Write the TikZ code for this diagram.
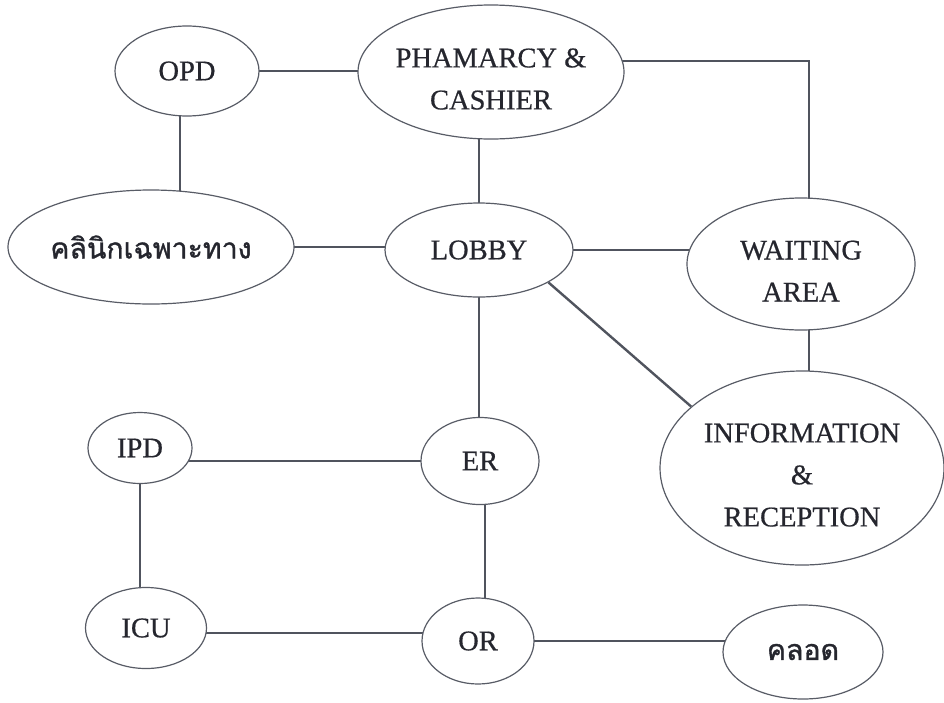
\documentclass[tikz,border=0pt]{standalone}
\usepackage{fontspec}
\setmainfont[FakeBold=0.6]{Liberation Serif}
\newfontfamily\thaifont[Script=Thai,FakeBold=1.2]{Loma}
\usetikzlibrary{shapes.geometric,backgrounds}
\definecolor{inkline}{HTML}{50545E}
\definecolor{rim}{HTML}{585C66}
\definecolor{inktext}{HTML}{25262E}
% extra room above the first line of a stacked label
\newcommand{\toproom}{\rule{0pt}{33pt}}
\begin{document}
\begin{tikzpicture}[x=1pt,y=-1pt,
  room/.style={ellipse,draw=rim,line width=1.2pt,fill=white,inner sep=-4pt,
    align=center,text=inktext,font=\fontsize{28.5}{42}\selectfont},
  link/.style={draw=inkline,line width=2.4pt}]
\useasboundingbox (0,0) rectangle (944,702);

% rooms
\node[room,minimum width=144,minimum height=90]  (opd)     at (187,71)  {OPD};
\node[room,minimum width=266,minimum height=134] (pharm)   at (491,72)  {\toproom PHAMARCY \&\\CASHIER};
\node[room,minimum width=286,minimum height=114] (clinic)  at (151,247) {\thaifont คลินิกเฉพาะทาง};
\node[room,minimum width=188,minimum height=94]  (lobby)   at (479,250) {LOBBY};
\node[room,minimum width=228,minimum height=132] (waiting) at (801,264) {\toproom WAITING\\AREA};
\node[room,minimum width=284,minimum height=194] (info)    at (802,468) {\toproom INFORMATION\\\&\\RECEPTION};
\node[room,minimum width=104,minimum height=71]  (ipd)     at (140,448) {IPD};
\node[room,minimum width=118,minimum height=87]  (er)      at (480,461) {ER};
\node[room,minimum width=121,minimum height=81]  (icu)     at (146,628) {ICU};
\node[room,minimum width=112,minimum height=86]  (orr)     at (478,641) {OR};
\node[room,minimum width=160,minimum height=94]  (labor)   at (803,652) {\thaifont คลอด};

% corridors, drawn under the rooms
\begin{scope}[on background layer]
\fill[white] (0,0) rectangle (944,702);
\coordinate (opdfoot) at ([xshift=-7pt]opd.center);
\coordinate (phtap)   at ([yshift=11pt]pharm.center);
\coordinate (waittop) at ([xshift=8pt]waiting.center);
\coordinate (erleg)   at ([xshift=5pt]er.center);
\coordinate (icuarm)  at ([yshift=-5pt]icu.center);
\draw[link] (opd.center) -- (opd.center -| pharm.center);
\draw[link] (opdfoot) -- (opdfoot |- clinic.center);
\draw[link] (lobby.center) -- (lobby.center |- pharm.center);
\draw[link] (phtap) -| (waittop);
\draw[link] (clinic.center) -- (clinic.center -| lobby.center);
\draw[link] (lobby.center) -- (lobby.center -| waiting.center);
\draw[link] (lobby.-25) -- (info.151);
\draw[link] (waittop) -- (waittop |- info.center);
\draw[link] (lobby.center) -- (lobby.center |- er.center);
\draw[link] (er.center) -- (er.center -| ipd.center);
\draw[link] (ipd.center) -- (ipd.center |- icu.center);
\draw[link] (erleg) -- (erleg |- orr.center);
\draw[link] (icuarm) -- (icuarm -| orr.center);
\draw[link] (orr.center) -- (orr.center -| labor.center);
\end{scope}
\end{tikzpicture}
\end{document}
